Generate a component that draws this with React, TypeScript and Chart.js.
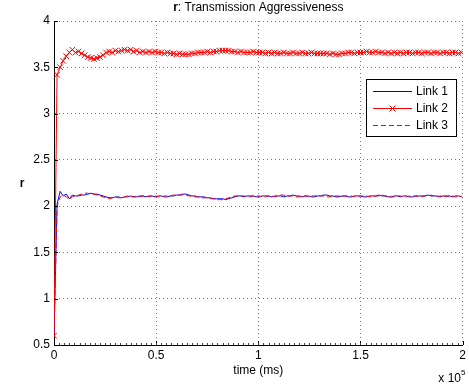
import React, { useEffect, useRef } from "react";
import { Chart, registerables } from "chart.js";

Chart.register(...registerables);

const SAMPLE_STEP_MS = 1500;

const seriesNames = ["Link 1", "Link 2", "Link 3"];

const link1 = [
  0.60, 2.02, 2.16, 2.11, 2.13, 2.08, 2.12, 2.11, 2.11, 2.12,
  2.12, 2.13, 2.14, 2.13, 2.13, 2.12, 2.11, 2.10, 2.09, 2.09,
  2.10, 2.10, 2.09, 2.10, 2.10, 2.11, 2.10, 2.10, 2.11, 2.11,
  2.10, 2.11, 2.11, 2.10, 2.11, 2.11, 2.10, 2.10, 2.11, 2.11,
  2.12, 2.12, 2.13, 2.13, 2.12, 2.11, 2.11, 2.10, 2.10, 2.10,
  2.09, 2.09, 2.08, 2.08, 2.08, 2.08, 2.07, 2.08, 2.09, 2.10,
  2.11, 2.11, 2.10, 2.11, 2.11, 2.11, 2.10, 2.10, 2.11, 2.11,
  2.11, 2.10, 2.11, 2.11, 2.11, 2.10, 2.11, 2.11, 2.12, 2.11,
  2.11, 2.10, 2.11, 2.11, 2.10, 2.10, 2.11, 2.11, 2.12, 2.12,
  2.11, 2.11, 2.10, 2.10, 2.11, 2.11, 2.10, 2.10, 2.11, 2.11,
  2.11, 2.10, 2.10, 2.11, 2.11, 2.11, 2.12, 2.11, 2.11, 2.10,
  2.10, 2.11, 2.11, 2.10, 2.11, 2.11, 2.10, 2.10, 2.11, 2.11,
  2.11, 2.11, 2.12, 2.11, 2.11, 2.11, 2.10, 2.11, 2.11, 2.11,
  2.10, 2.11, 2.11, 2.10,
];

const link2 = [
  0.60, 3.42, 3.50, 3.57, 3.62, 3.66, 3.69, 3.66, 3.67, 3.65,
  3.63, 3.61, 3.60, 3.59, 3.60, 3.61, 3.63, 3.66, 3.67, 3.66,
  3.68, 3.67, 3.68, 3.69, 3.68, 3.69, 3.67, 3.68, 3.66, 3.67,
  3.66, 3.67, 3.66, 3.67, 3.66, 3.66, 3.65, 3.66, 3.65, 3.65,
  3.64, 3.65, 3.64, 3.64, 3.64, 3.65, 3.65, 3.66, 3.66, 3.66,
  3.67, 3.66, 3.67, 3.67, 3.68, 3.68, 3.68, 3.68, 3.67, 3.67,
  3.66, 3.67, 3.66, 3.66, 3.66, 3.67, 3.66, 3.66, 3.66, 3.65,
  3.66, 3.65, 3.66, 3.65, 3.65, 3.66, 3.65, 3.65, 3.66, 3.65,
  3.65, 3.66, 3.65, 3.65, 3.66, 3.65, 3.65, 3.65, 3.65, 3.65,
  3.64, 3.65, 3.64, 3.64, 3.65, 3.65, 3.66, 3.66, 3.65, 3.66,
  3.66, 3.66, 3.67, 3.66, 3.66, 3.67, 3.66, 3.66, 3.65, 3.66,
  3.65, 3.66, 3.65, 3.66, 3.65, 3.66, 3.66, 3.65, 3.66, 3.66,
  3.65, 3.66, 3.66, 3.65, 3.66, 3.66, 3.65, 3.66, 3.66, 3.65,
  3.66, 3.66, 3.65, 3.66,
];

const link3 = [
  0.60, 2.00, 2.10, 2.12, 2.10, 2.07, 2.10, 2.11, 2.12, 2.13,
  2.14, 2.14, 2.13, 2.13, 2.12, 2.11, 2.10, 2.09, 2.08, 2.09,
  2.10, 2.09, 2.09, 2.10, 2.11, 2.10, 2.10, 2.11, 2.10, 2.11,
  2.11, 2.10, 2.11, 2.11, 2.10, 2.10, 2.11, 2.11, 2.11, 2.12,
  2.12, 2.12, 2.12, 2.12, 2.11, 2.11, 2.10, 2.10, 2.09, 2.09,
  2.09, 2.08, 2.08, 2.07, 2.07, 2.07, 2.08, 2.09, 2.10, 2.11,
  2.11, 2.11, 2.11, 2.10, 2.10, 2.11, 2.11, 2.11, 2.10, 2.10,
  2.11, 2.11, 2.10, 2.11, 2.12, 2.12, 2.11, 2.11, 2.11, 2.10,
  2.10, 2.11, 2.11, 2.10, 2.11, 2.11, 2.12, 2.11, 2.11, 2.10,
  2.10, 2.11, 2.11, 2.11, 2.10, 2.11, 2.11, 2.11, 2.10, 2.10,
  2.11, 2.11, 2.11, 2.10, 2.10, 2.11, 2.11, 2.12, 2.11, 2.11,
  2.10, 2.10, 2.11, 2.11, 2.10, 2.10, 2.11, 2.11, 2.11, 2.10,
  2.10, 2.11, 2.11, 2.12, 2.11, 2.10, 2.11, 2.11, 2.10, 2.11,
  2.11, 2.10, 2.10, 2.11,
];

const xTickValues = [0, 50000, 100000, 150000, 200000];
const xTickLabels = ["0", "0.5", "1", "1.5", "2"];
const yTickValues = [0.5, 1, 1.5, 2, 2.5, 3, 3.5, 4];
const yTickLabels = ["0.5", "1", "1.5", "2", "2.5", "3", "3.5", "4"];

const FONT = '"Liberation Sans", Arial, Helvetica, sans-serif';

const toPoints = (vals: number[]) =>
  vals.map((v, i) => ({ x: i * SAMPLE_STEP_MS, y: v }));

const decorPlugin = {
  id: "decor",
  afterDraw(chart: any) {
    const ctx = chart.ctx as CanvasRenderingContext2D;
    const { left, right, top, bottom } = chart.chartArea;
    const xs = chart.scales.x;
    const ys = chart.scales.y;
    ctx.save();
    // major ticks (inward)
    ctx.strokeStyle = "#000";
    ctx.lineWidth = 1;
    ctx.beginPath();
    yTickValues.forEach((v) => {
      const y = Math.round(ys.getPixelForValue(v)) + 0.5;
      ctx.moveTo(left, y);
      ctx.lineTo(left + 4, y);
    });
    xTickValues.forEach((v) => {
      const x = Math.round(xs.getPixelForValue(v)) + 0.5;
      ctx.moveTo(x, bottom);
      ctx.lineTo(x, bottom - 4);
    });
    ctx.stroke();
    // minor ticks on x axis
    ctx.strokeStyle = "#444";
    ctx.beginPath();
    for (let v = 2500; v < 200000; v += 2500) {
      const x = Math.round(xs.getPixelForValue(v)) + 0.5;
      ctx.moveTo(x, bottom);
      ctx.lineTo(x, bottom - 2);
    }
    ctx.stroke();

    // title
    ctx.fillStyle = "#000";
    ctx.textBaseline = "alphabetic";
    const boldPart = "r";
    const normalPart = ": Transmission Aggressiveness";
    ctx.font = `bold 12px ${FONT}`;
    const wb = ctx.measureText(boldPart).width;
    ctx.font = `12px ${FONT}`;
    const wn = ctx.measureText(normalPart).width;
    const cx = (left + right) / 2;
    const sx = cx - (wb + wn) / 2;
    ctx.font = `bold 12px ${FONT}`;
    ctx.textAlign = "left";
    ctx.fillText(boldPart, sx, 11);
    ctx.font = `12px ${FONT}`;
    ctx.fillText(normalPart, sx + wb, 11);

    // y axis title
    ctx.font = `bold 12px ${FONT}`;
    ctx.textAlign = "center";
    ctx.fillText("r", 22, 187);

    // x axis title
    ctx.font = `12px ${FONT}`;
    ctx.fillText("time (ms)", cx, 374);

    // exponent label
    ctx.textAlign = "right";
    ctx.fillText("x 10", 461, 382);
    ctx.font = `8px ${FONT}`;
    ctx.textAlign = "left";
    ctx.fillText("5", 461, 375);

    // legend
    const bx = 366.5, by = 79.5, bw = 90, bh = 57;
    ctx.fillStyle = "#fff";
    ctx.fillRect(bx, by, bw, bh);
    ctx.strokeStyle = "#000";
    ctx.lineWidth = 1;
    ctx.strokeRect(bx, by, bw, bh);
    const rows = [91, 108, 125];
    const colors = ["#0000ff", "#ff0000", "#ff0000"];
    rows.forEach((ry, i) => {
      ctx.save();
      ctx.strokeStyle = colors[i];
      ctx.lineWidth = 1;
      if (i === 2) ctx.setLineDash([5, 3]);
      ctx.beginPath();
      ctx.moveTo(373, ry + 0.5);
      ctx.lineTo(412, ry + 0.5);
      ctx.stroke();
      ctx.restore();
      if (i === 1) {
        ctx.strokeStyle = "#ff0000";
        ctx.beginPath();
        ctx.moveTo(389.5, ry - 2.5);
        ctx.lineTo(395.5, ry + 3.5);
        ctx.moveTo(395.5, ry - 2.5);
        ctx.lineTo(389.5, ry + 3.5);
        ctx.stroke();
      }
      ctx.fillStyle = "#000";
      ctx.font = `12px ${FONT}`;
      ctx.textAlign = "left";
      ctx.textBaseline = "middle";
      ctx.fillText(seriesNames[i], 416, ry + 1);
    });
    ctx.restore();
  },
};

export default function App() {
  const canvasRef = useRef<HTMLCanvasElement | null>(null);

  useEffect(() => {
    if (!canvasRef.current) return;
    const chart = new Chart(canvasRef.current, {
      type: "line",
      data: {
        datasets: [
          {
            label: seriesNames[0],
            data: toPoints(link1),
            borderColor: "#0000ff",
            backgroundColor: "#0000ff",
            borderWidth: 1,
            pointRadius: 0,
            tension: 0,
            order: 2,
          },
          {
            label: seriesNames[1],
            data: toPoints(link2),
            borderColor: "#ff0000",
            backgroundColor: "#ff0000",
            borderWidth: 1,
            pointStyle: "crossRot",
            pointRadius: 4,
            pointBorderWidth: 1,
            pointBorderColor: "#ff0000",
            tension: 0,
            order: 0,
          },
          {
            label: seriesNames[2],
            data: toPoints(link3),
            borderColor: "#ff0000",
            backgroundColor: "#ff0000",
            borderWidth: 1,
            borderDash: [5, 3],
            pointRadius: 0,
            tension: 0,
            order: 1,
          },
        ],
      },
      options: {
        animation: false,
        responsive: false,
        maintainAspectRatio: false,
        devicePixelRatio: 1,
        layout: { padding: { top: 21, right: 5, left: 0, bottom: 0 } },
        plugins: {
          legend: { display: false },
          tooltip: { enabled: false },
          title: { display: false },
        },
        scales: {
          x: {
            type: "linear",
            min: 0,
            max: 200000,
            afterFit: (s: any) => {
              s.height = 42;
            },
            afterBuildTicks: (s: any) => {
              s.ticks = xTickValues.map((v) => ({ value: v }));
            },
            ticks: {
              color: "#000",
              padding: 3,
              maxRotation: 0,
              autoSkip: false,
              font: { family: FONT, size: 12 },
              callback: (v: any) => {
                const i = xTickValues.indexOf(Number(v));
                return i >= 0 ? xTickLabels[i] : "";
              },
            },
            grid: {
              color: "#777",
              lineWidth: 1,
              drawTicks: false,
            },
            border: { display: true, color: "#000", width: 1, dash: [1, 3] },
          },
          y: {
            type: "linear",
            min: 0.5,
            max: 4,
            afterFit: (s: any) => {
              s.width = 54;
            },
            afterBuildTicks: (s: any) => {
              s.ticks = yTickValues.map((v) => ({ value: v }));
            },
            ticks: {
              color: "#000",
              padding: 4,
              autoSkip: false,
              font: { family: FONT, size: 12 },
              callback: (v: any) => {
                const i = yTickValues.indexOf(Number(v));
                return i >= 0 ? yTickLabels[i] : "";
              },
            },
            grid: {
              color: "#777",
              lineWidth: 1,
              drawTicks: false,
            },
            border: { display: true, color: "#000", width: 1, dash: [1, 3] },
          },
        },
      },
      plugins: [decorPlugin],
    } as any);
    return () => chart.destroy();
  }, []);

  return (
    <div
      style={{
        position: "absolute",
        left: 0,
        top: 0,
        width: 469,
        height: 387,
        background: "#fff",
      }}
    >
      <canvas ref={canvasRef} width={469} height={387} />
    </div>
  );
}
